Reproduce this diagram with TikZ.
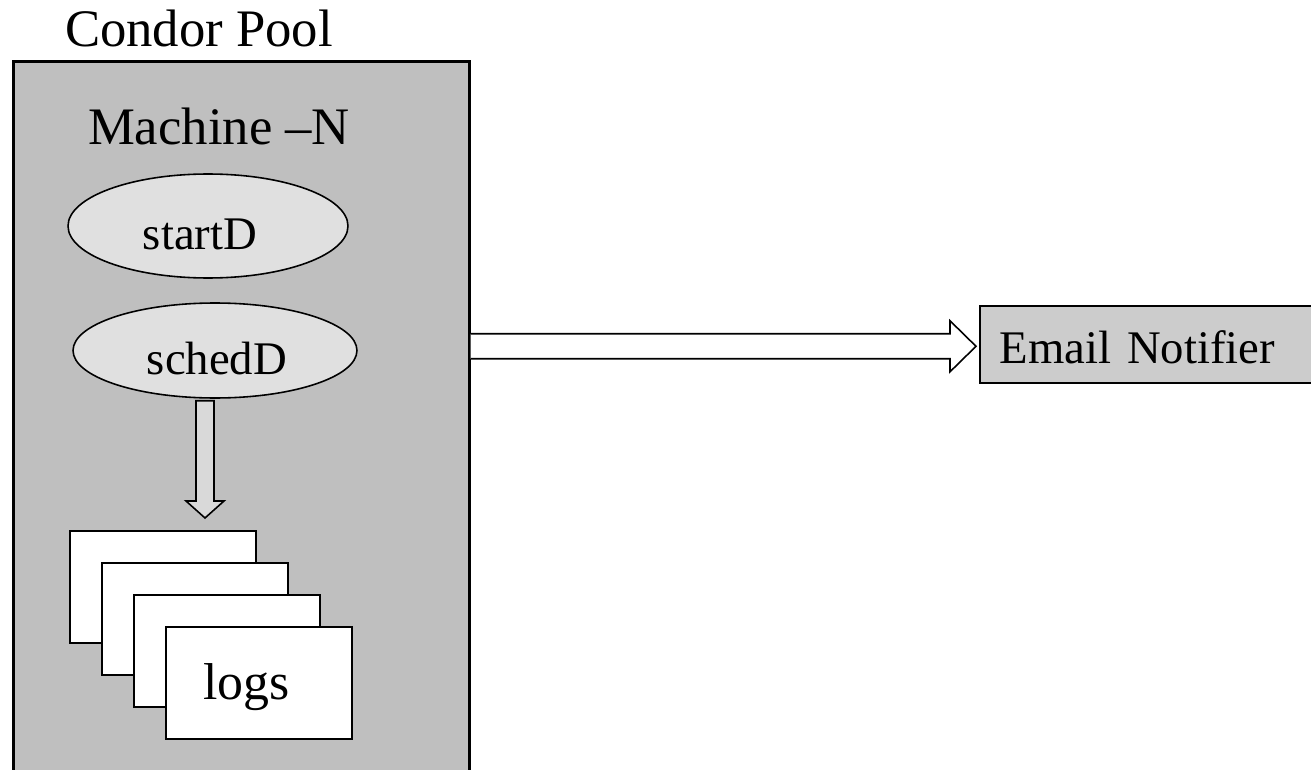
\documentclass[tikz,border=0pt]{standalone}
\usepackage{fontspec}
\setmainfont{Liberation Serif}
\usetikzlibrary{calc,shapes}

\definecolor{poolgray}{gray}{0.75}
\definecolor{daemongray}{gray}{0.88}
\definecolor{arrowgray}{gray}{0.85}
\definecolor{emailgray}{gray}{0.8}

\begin{document}
\begin{tikzpicture}[x=0.02cm,y=-0.02cm,
    bigtext/.style={font=\fontsize{30}{36}\selectfont},
    smalltext/.style={font=\fontsize{26.6}{32}\selectfont},
    logtext/.style={font=\fontsize{29.5}{35}\selectfont},
    daemon/.style={draw,ellipse,fill=daemongray,line width=0.9pt,inner sep=0pt},
    page/.style={draw,fill=white,line width=0.9pt,minimum width=3.72cm,minimum height=2.24cm,anchor=north west,inner sep=0pt},
    fat/.style={draw,line width=0.9pt,line join=miter}]
          \useasboundingbox (0,0) rectangle (1311,770);
          \clip (0,0) rectangle (1311,770);
          % the pool
          \node[draw,fill=poolgray,line width=1.5pt,minimum width=9.12cm,minimum height=15cm,anchor=north west,inner sep=0pt] (pool) at (12,60) {};
          \node[bigtext,anchor=base] (poolname) at (199,47) {Condor Pool};
          \node[bigtext,anchor=base] (machine) at (219,145) {Machine –N};
          % daemons
          \node[daemon,minimum width=5.6cm,minimum height=2.08cm] (startD) at (208,226) {};
          \node[smalltext] (startDtext) at ($(startD)+(-8,8)$) {startD};
          \node[daemon,minimum width=5.68cm,minimum height=1.9cm] (schedD) at (215,350.5) {};
          \node[smalltext] (schedDtext) at ($(schedD)+(2,8)$) {schedD};
          % log pages
          \foreach \i in {1,...,4} \node[page] (log\i) at ({69+32*(\i-1)},{530+32*(\i-1)}) {};
          \node[logtext] (logs) at ($(log4)+(-12,4)$) {logs};
          % schedD writes the logs
          \coordinate (dtop) at ($(schedD.south)+(-10,2)$);
          \coordinate (dtip) at ($(dtop |- log1.north)+(0,-12)$);
          \draw[fat,fill=arrowgray] ($(dtop)+(-9,0)$) -- ($(dtip)+(-9,-17)$) -- ($(dtip)+(-19,-17)$) -- (dtip)
                -- ($(dtip)+(19,-17)$) -- ($(dtip)+(9,-17)$) -- ($(dtop)+(9,0)$) -- cycle;
          % notifier
          \node[draw,fill=emailgray,line width=0.9pt,anchor=north west,minimum height=1.54cm,text width=6.6cm,inner xsep=0.4cm,
                align=left,text height=22pt,text depth=0pt,smalltext] (email) at (979,305) {Email Notifier};
          \coordinate (rtip) at ($(email.west)+(-3,2)$);
          \coordinate (rstart) at (pool.east |- rtip);
          \draw[fat,fill=white] ($(rstart)+(0,-12.5)$) -- ($(rtip)+(-26,-12.5)$) -- ($(rtip)+(-26,-25.5)$) -- (rtip)
                -- ($(rtip)+(-26,25.5)$) -- ($(rtip)+(-26,12.5)$) -- ($(rstart)+(0,12.5)$);
        \end{tikzpicture}
\end{document}
